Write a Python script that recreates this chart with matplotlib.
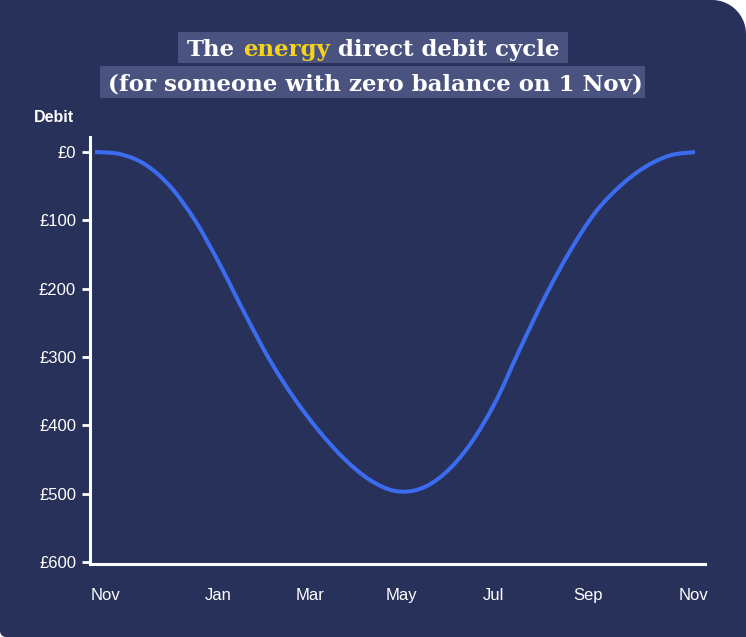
import numpy as np
import matplotlib
matplotlib.use('Agg')
import matplotlib.pyplot as plt
from matplotlib.patches import PathPatch, Rectangle
from matplotlib.path import Path

# ── Data ──────────────────────────────────────────────────────
months = np.arange(0, 12.5, 0.5)          # months after 1 Nov
debit = [0, 3, 18, 50, 100, 165, 237, 305, 362, 410, 450, 480, 496,
         493, 470, 428, 367, 288, 212, 145, 89, 50, 22, 5, 0]

x_labels = ['Nov', 'Jan', 'Mar', 'May', 'Jul', 'Sep', 'Nov']
x_label_pos = [0.2, 2.46, 4.3, 6.12, 7.96, 9.86, 11.96]
y_ticks = [0, 100, 200, 300, 400, 500, 600]
y_labels = ['£0', '£100', '£200', '£300', '£400', '£500', '£600']

title_1 = ['The', 'energy', 'direct debit cycle']
title_2 = '(for someone with zero balance on 1 Nov)'

# ── Style ─────────────────────────────────────────────────────
W, H = 746, 637
BG = '#283159'
BOX = '#4a5380'
LINE = '#3b6cf0'
YELLOW = '#f7d21a'
TITLE_FONT = dict(family='DejaVu Serif', weight='bold', fontsize=16.5)
SANS = 'Liberation Sans'


def px(x, y):
    """pixel (y down) -> figure fraction"""
    return x / W, 1 - y / H


def card_path(r_tr=34, r_bl=6):
    pts = [(0, 0)]
    cx, cy = W - r_tr, r_tr
    for a in np.linspace(-np.pi / 2, 0, 24):
        pts.append((cx + r_tr * np.cos(a), cy + r_tr * np.sin(a)))
    pts.append((W, H))
    cx, cy = r_bl, H - r_bl
    for a in np.linspace(np.pi / 2, np.pi, 8):
        pts.append((cx + r_bl * np.cos(a), cy + r_bl * np.sin(a)))
    pts.append((0, 0))
    return Path([px(x, y) for x, y in pts])


def smooth_path(xs, ys):
    """Catmull-Rom through the points, as cubic Bezier segments"""
    p = np.column_stack([xs, ys]).astype(float)
    p = np.vstack([p[0], p, p[-1]])
    verts, codes = [p[1]], [Path.MOVETO]
    for i in range(1, len(p) - 2):
        c1 = p[i] + (p[i + 1] - p[i - 1]) / 6
        c2 = p[i + 1] - (p[i + 2] - p[i]) / 6
        verts += [c1, c2, p[i + 1]]
        codes += [Path.CURVE4] * 3
    return Path(verts, codes)


fig = plt.figure(figsize=(W / 100, H / 100), dpi=100)
fig.patch.set_facecolor('white')
fig.add_artist(PathPatch(card_path(), transform=fig.transFigure,
                         facecolor=BG, edgecolor='none', zorder=-10))

renderer = fig.canvas.get_renderer()


def width_of(s, **kw):
    t = fig.text(0, 0, s, **kw)
    w = t.get_window_extent(renderer).width
    t.remove()
    return w


# ── Title, line 1 (three colour segments) ─────────────────────
full_1 = ' '.join(title_1)
w1 = width_of(full_1, **TITLE_FONT)
cx = 373
x0 = cx - w1 / 2
fig.add_artist(Rectangle(px(x0 - 9, 63), (w1 + 18) / W, 31 / H,
                         transform=fig.transFigure, facecolor=BOX,
                         edgecolor='none', zorder=-5))
colors_1 = ['white', YELLOW, 'white']
prefix = ''
for seg, col in zip(title_1, colors_1):
    prefix = (prefix + ' ' + seg).strip()
    off = width_of(prefix, **TITLE_FONT) - width_of(seg, **TITLE_FONT)
    fig.text(*px(x0 + off, 56), seg, color=col, ha='left', va='baseline',
             **TITLE_FONT)

# ── Title, line 2 ─────────────────────────────────────────────
w2 = width_of(title_2, **TITLE_FONT)
x2 = cx + 2 - w2 / 2
fig.add_artist(Rectangle(px(x2 - 8, 98), (w2 + 11) / W, 32 / H,
                         transform=fig.transFigure, facecolor=BOX,
                         edgecolor='none', zorder=-5))
fig.text(*px(x2, 91), title_2, color='white', ha='left', va='baseline',
         **TITLE_FONT)

# ── Chart ─────────────────────────────────────────────────────
ax = fig.add_axes([90 / W, 1 - 564 / H, 615 / W, 427 / H])
ax.set_facecolor('none')
ax.add_patch(PathPatch(smooth_path(months, debit), facecolor='none',
                       edgecolor=LINE, lw=2.9, capstyle='butt'))
ax.set_xlim(-0.1, 12.2)
ax.set_ylim(602.9, -22)

for side in ['top', 'right']:
    ax.spines[side].set_visible(False)
for side in ['left', 'bottom']:
    ax.spines[side].set_color('white')
    ax.spines[side].set_linewidth(2.2)

ax.set_yticks(y_ticks, y_labels)
ax.tick_params(axis='y', colors='white', length=6, width=2.0, pad=4,
               labelsize=12)
ax.set_xticks(x_label_pos, x_labels)
ax.tick_params(axis='x', colors='white', length=0, pad=17, labelsize=12)
for lab in ax.get_xticklabels() + ax.get_yticklabels():
    lab.set_family(SANS)

fig.text(*px(54, 118), 'Debit', color='white', ha='center', va='center',
         family=SANS, weight='bold', fontsize=11.5)

fig.savefig('out.png', dpi=100, facecolor='white')
